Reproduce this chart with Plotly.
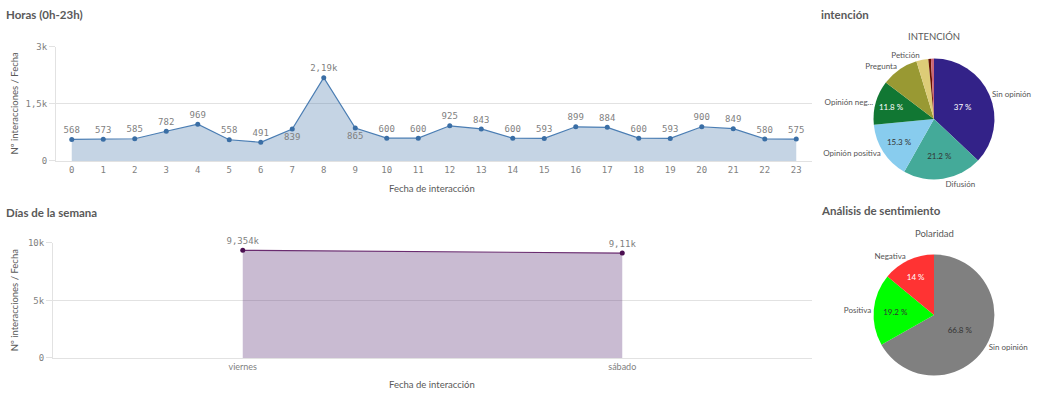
import plotly.graph_objects as go

W, H = 1048, 397

# ---- data ----
hours = list(range(24))
hour_values = [568, 573, 585, 782, 969, 558, 491, 839, 2190, 865, 600, 600,
               925, 843, 600, 593, 899, 884, 600, 593, 900, 849, 580, 575]
hour_text_pos = ["top center"] * 24
hour_text_pos[7] = "bottom center"
hour_text_pos[9] = "bottom center"

days = ["viernes", "sábado"]
day_values = [9354, 9110]

intent_labels = ["Sin opinión", "Difusión", "Opinión positiva", "Opinión negativa",
                 "Pregunta", "Petición", "Queja", "Otros"]
intent_display = ["Sin opinión", "Difusión", "Opinión positiva", "Opinión neg...",
                  "Pregunta", "Petición", "", ""]
intent_values = [37.0, 21.2, 15.3, 11.8, 10.0, 3.2, 0.7, 0.8]
intent_pct_text = ["37 %", "21.2 %", "15.3 %", "11.8 %", "", "", "", ""]
intent_colors = ["#332288", "#44AA99", "#88CCEE", "#117733", "#999933",
                 "#DDCC77", "#661100", "#CC6677"]
intent_pct_colors = ["white", "#333333", "#333333", "white", "white", "white", "white", "white"]

pol_labels = ["Sin opinión", "Positiva", "Negativa"]
pol_values = [66.8, 19.2, 14.0]
pol_pct_text = ["66.8 %", "19.2 %", "14 %"]
pol_colors = ["#808080", "#00FF00", "#FF3333"]
pol_pct_colors = ["#333333", "#333333", "white"]


def fmt(v):
    if v >= 1000:
        s = f"{v/1000:.3f}".rstrip("0").rstrip(".")
        return s.replace(".", ",") + "k"
    return str(v)


def px_x(x):
    return x / W


def px_y(y):
    return 1 - y / H


GRAY = "#7f7f7f"
GRID = "#e2e2e2"
SANS = "Lato"
MONO = "DejaVu Sans Mono"

fig = go.Figure()

# Hours line chart
fig.add_trace(go.Scatter(
    x=hours, y=hour_values, mode="lines+markers+text",
    text=[fmt(v) for v in hour_values], textposition=hour_text_pos,
    textfont=dict(family=MONO, size=9, color=GRAY),
    line=dict(color="#4a7db3", width=1.2),
    marker=dict(color="#3a6ea5", size=5),
    fill="tozeroy", fillcolor="rgba(62,112,165,0.30)",
    xaxis="x", yaxis="y", showlegend=False, cliponaxis=False))

# Days line chart
fig.add_trace(go.Scatter(
    x=[0, 1], y=day_values, mode="lines+markers+text",
    text=[fmt(v) for v in day_values], textposition="top center",
    textfont=dict(family=MONO, size=9, color=GRAY),
    line=dict(color="#6a2c70", width=1.2),
    marker=dict(color="#4b0f51", size=5),
    fill="tozeroy", fillcolor="rgba(101,61,126,0.35)",
    xaxis="x2", yaxis="y2", showlegend=False, cliponaxis=False))

# Pies
def add_pie(labels, display, values, colors, pct_text, pct_colors, cx, cy, r):
    dom = dict(x=[px_x(cx - r), px_x(cx + r)], y=[px_y(cy + r), px_y(cy - r)])
    fig.add_trace(go.Pie(
        labels=labels, values=values, sort=False, direction="clockwise", rotation=0,
        marker=dict(colors=colors, line=dict(width=0)),
        texttemplate=pct_text, textposition="inside", insidetextorientation="horizontal",
        insidetextfont=dict(family=SANS, size=8, color=pct_colors),
        domain=dom, showlegend=False, hoverinfo="label+percent"))
    fig.add_trace(go.Pie(
        labels=labels, values=values, sort=False, direction="clockwise", rotation=0,
        marker=dict(colors=["rgba(0,0,0,0)"] * len(values), line=dict(width=0)),
        texttemplate=display, textposition="outside",
        outsidetextfont=dict(family=SANS, size=8, color="#555555"),
        domain=dom, showlegend=False, hoverinfo="skip"))

add_pie(intent_labels, intent_display, intent_values, intent_colors,
        intent_pct_text, intent_pct_colors, 934, 117, 62)
add_pie(pol_labels, pol_labels, pol_values, pol_colors,
        pol_pct_text, pol_pct_colors, 934, 318, 62)

axis_common = dict(showgrid=False, zeroline=False, showline=True, linecolor=GRID,
                   tickfont=dict(family=MONO, size=9, color=GRAY), fixedrange=True)
yaxis_common = dict(showgrid=True, gridcolor=GRID, gridwidth=1, zeroline=False,
                    showline=True, linecolor=GRID, ticks="outside", ticklen=6,
                    tickcolor=GRID, tickfont=dict(family=MONO, size=9, color=GRAY),
                    fixedrange=True)

fig.update_layout(
    width=W, height=H, margin=dict(l=0, r=0, t=0, b=0),
    paper_bgcolor="white", plot_bgcolor="white",
    xaxis=dict(domain=[px_x(56), px_x(812)], range=[-0.5, 23.5],
               tickvals=hours, ticktext=[str(h) for h in hours], anchor="y",
               **axis_common),
    yaxis=dict(domain=[px_y(160), px_y(43)], range=[0, 3000],
               tickvals=[0, 1500, 3000], ticktext=["0", "1,5k", "3k"], anchor="x",
               **yaxis_common),
    xaxis2=dict(domain=[px_x(53), px_x(812)], range=[-0.5, 1.5],
                tickvals=[0, 1], ticktext=days, anchor="y2",
                **{**axis_common, "tickfont": dict(family=SANS, size=9, color=GRAY)}),
    yaxis2=dict(domain=[px_y(362), px_y(244)], range=[0, 10000],
                tickvals=[0, 5000, 10000], ticktext=["0", "5k", "10k"], anchor="x2",
                **yaxis_common),
)

TITLE_FONT = dict(family=SANS, size=11.5, color="#595959")
ann = []
def add_ann(text, x, y, font, xanchor="left", angle=0):
    ann.append(dict(text=text, x=px_x(x), y=px_y(y), xref="paper", yref="paper",
                    xanchor=xanchor, yanchor="middle", showarrow=False,
                    font=font, textangle=angle))

add_ann("<b>Horas (0h-23h)</b>", 4, 10, TITLE_FONT)
add_ann("<b>Días de la semana</b>", 4, 213, TITLE_FONT)
add_ann("<b>intención</b>", 819, 10, TITLE_FONT)
add_ann("<b>Análisis de sentimiento</b>", 819, 211, TITLE_FONT)
AXT = dict(family=SANS, size=9.5, color="#595959")
add_ann("Fecha de interacción", 432, 188, AXT, xanchor="center")
add_ann("Fecha de interacción", 432, 389, AXT, xanchor="center")
add_ann("Nº interacciones / Fecha", 14, 101, AXT, xanchor="center", angle=-90)
add_ann("Nº interacciones / Fecha", 14, 303, AXT, xanchor="center", angle=-90)
PT = dict(family=SANS, size=9.5, color="#595959")
add_ann("INTENCIÓN", 934, 32, PT, xanchor="center")
add_ann("Polaridad", 934, 234, PT, xanchor="center")
fig.update_layout(annotations=ann)

fig.write_html("out.html", config={"displayModeBar": False},
               post_script="document.body.style.margin='0';document.body.style.padding='0';document.body.style.overflow='hidden';")
